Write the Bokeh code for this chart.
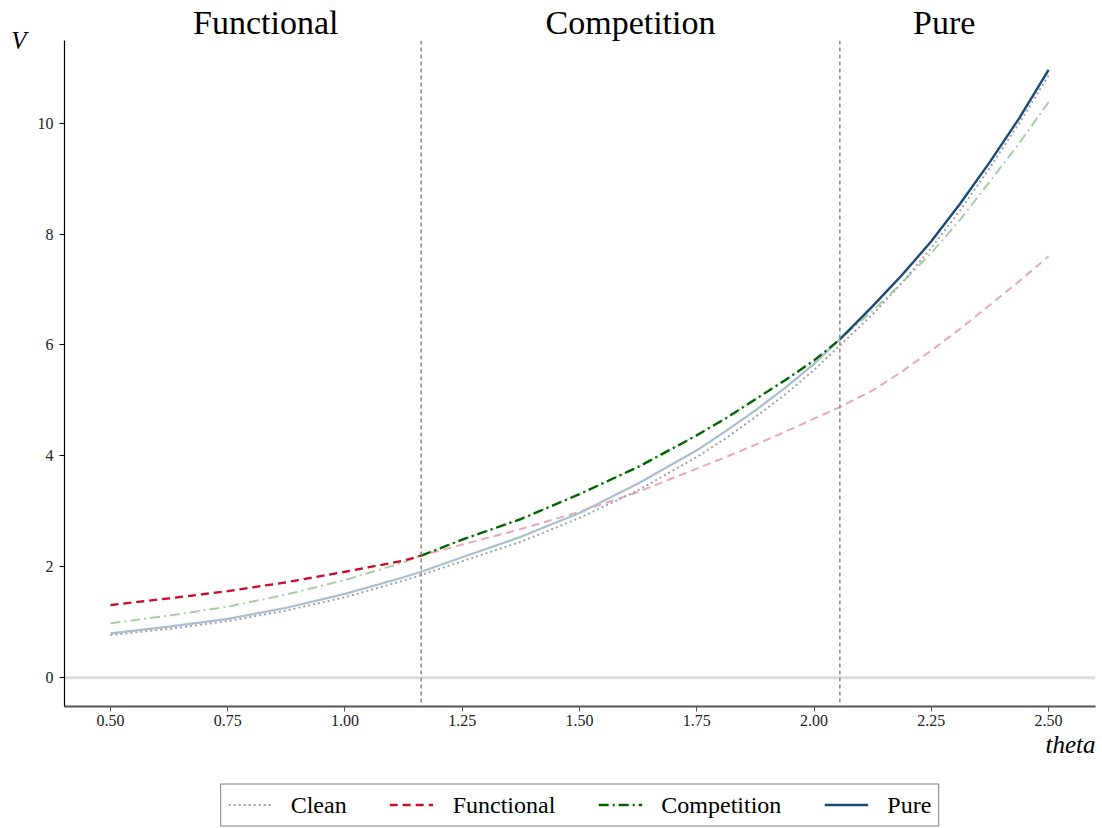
from bokeh.plotting import figure
from bokeh.layouts import column
from bokeh.models import (Span, Legend, LegendItem, Range1d, FixedTicker,
                          NumeralTickFormatter, LinearAxis, Title)
from bokeh.embed import file_html
from bokeh.resources import INLINE

theta = [0.5, 0.625, 0.75, 0.875, 1.0, 1.125, 1.1624, 1.25, 1.375, 1.5, 1.625,
         1.75, 1.8125, 1.875, 1.9375, 2.0, 2.055, 2.125, 2.1875, 2.25, 2.3125,
         2.375, 2.4375, 2.5]
clean = [0.77, 0.88, 1.02, 1.21, 1.45, 1.75, 1.85, 2.10, 2.45, 2.88, 3.38,
         3.98, 4.32, 4.70, 5.10, 5.55, 5.99, 6.55, 7.12, 7.75, 8.44,
         9.20, 10.00, 10.86]
functional = [1.31, 1.43, 1.56, 1.72, 1.91, 2.11, 2.20, 2.40, 2.68, 2.99, 3.35,
              3.77, 3.98, 4.20, 4.43, 4.67, 4.88, 5.18, 5.52, 5.90, 6.30,
              6.72, 7.15, 7.60]
competition = [0.98, 1.12, 1.28, 1.50, 1.76, 2.08, 2.20, 2.49, 2.86, 3.31, 3.80,
               4.37, 4.68, 5.02, 5.36, 5.72, 6.10, 6.62, 7.12, 7.66, 8.27,
               8.95, 9.64, 10.38]
pure = [0.80, 0.92, 1.06, 1.26, 1.51, 1.81, 1.91, 2.17, 2.54, 2.97, 3.50,
        4.10, 4.45, 4.82, 5.22, 5.66, 6.10, 6.70, 7.26, 7.87, 8.56,
        9.30, 10.09, 10.96]
boundaries = [1.1624, 2.055]
regions = ["Functional", "Competition", "Pure"]
x_ticks = [0.5, 0.75, 1.0, 1.25, 1.5, 1.75, 2.0, 2.25, 2.5]
y_ticks = [0, 2, 4, 6, 8, 10]

FONT = "Liberation Serif"
COL_FUNC, COL_FUNC_L = "#c8102e", "#e9a8b8"
COL_COMP, COL_COMP_L = "#006400", "#a8cfa2"
COL_PURE, COL_PURE_L = "#1c4a78", "#a9bdd3"
COL_CLEAN = "#a0a0a8"
DASH_FUNC, DASH_COMP, DASH_CLEAN = "8 5", "10 4 2 4", "2 3"

p = figure(width=1098, height=772, output_backend="svg", toolbar_location=None,
           x_range=Range1d(0.402, 2.6), y_range=Range1d(-0.52, 11.49),
           min_border_left=64, min_border_right=3, min_border_top=37,
           min_border_bottom=66)
p.outline_line_color = None
p.grid.visible = False
p.background_fill_color = "white"

for ax in (p.xaxis[0], p.yaxis[0]):
    ax.major_label_text_font = FONT
    ax.major_label_text_font_size = "16px"
    ax.major_label_text_color = "#222222"
    ax.minor_tick_line_color = None
    ax.major_tick_in = 0
    ax.major_tick_out = 5
    ax.axis_label_text_font = FONT
    ax.axis_label_text_font_style = "italic"
    ax.axis_label_text_font_size = "25px"
    ax.axis_label_text_color = "black"

xa, ya = p.xaxis[0], p.yaxis[0]
xa.ticker = FixedTicker(ticks=x_ticks)
xa.formatter = NumeralTickFormatter(format="0.00")
xa.axis_line_color = "#555555"
xa.axis_line_width = 2
xa.major_tick_line_color = "#555555"
xa.major_label_standoff = 3
ya.ticker = FixedTicker(ticks=y_ticks)
ya.axis_line_color = "black"
ya.axis_line_width = 1.2
ya.major_tick_line_color = "black"
ya.major_label_standoff = 6
ya.axis_label = "V"
ya.axis_label_standoff = 8
props = ya.properties()
if "axis_label_align" in props:
    ya.axis_label_align = "end"
if "axis_label_orientation" in props:
    ya.axis_label_orientation = "horizontal"

# x label, right-aligned under the axis
p.add_layout(Title(text="theta", align="right", text_font=FONT, text_font_style="italic",
                   text_font_size="25px", text_color="black", standoff=0), "below")

b1, b2 = boundaries
edges = [theta[0], b1, b2, theta[-1]]
mids = [round((edges[i] + edges[i + 1]) / 2, 4) for i in range(3)]
top = LinearAxis(ticker=FixedTicker(ticks=mids),
                 major_label_overrides={m: n for m, n in zip(mids, regions)})
top.axis_line_color = None
top.major_tick_line_color = None
top.minor_tick_line_color = None
top.major_tick_out = 0
top.major_tick_in = 0
top.major_label_standoff = 0
top.major_label_text_font = FONT
top.major_label_text_font_size = "34px"
top.major_label_text_color = "black"
p.add_layout(top, "above")

p.add_layout(Span(location=0, dimension="width", line_color="#dddddd", line_width=3, level="underlay"))
for b in boundaries:
    p.add_layout(Span(location=b, dimension="height", line_color="#888888",
                      line_width=1.5, line_dash="4 3"))


def sub(xs, ys, lo, hi):
    pts = [(a, v) for a, v in zip(xs, ys) if lo - 1e-9 <= a <= hi + 1e-9]
    return [a for a, _ in pts], [v for _, v in pts]


p.line(theta, functional, line_color=COL_FUNC_L, line_width=2, line_dash=DASH_FUNC)
p.line(theta, competition, line_color=COL_COMP_L, line_width=2, line_dash=DASH_COMP)
p.line(theta, pure, line_color=COL_PURE_L, line_width=2.2)
p.line(theta, clean, line_color=COL_CLEAN, line_width=2, line_dash=DASH_CLEAN)

fx, fy = sub(theta, functional, theta[0], b1)
p.line(fx, fy, line_color=COL_FUNC, line_width=2.3, line_dash=DASH_FUNC)
cx, cy = sub(theta, competition, b1, b2)
p.line(cx, cy, line_color=COL_COMP, line_width=2.3, line_dash=DASH_COMP)
px_, py_ = sub(theta, pure, b2, theta[-1])
p.line(px_, py_, line_color=COL_PURE, line_width=2.3)

# legend strip: same series, drawn outside its visible ranges so only the legend shows
lg = figure(width=1098, height=56, output_backend="svg", toolbar_location=None,
            x_range=Range1d(10, 11), y_range=Range1d(100, 101),
            min_border_left=64, min_border_right=3, min_border_top=9,
            min_border_bottom=0)
lg.axis.visible = False
lg.grid.visible = False
lg.outline_line_color = None
r_clean = lg.line(theta, clean, line_color=COL_CLEAN, line_width=2, line_dash=DASH_CLEAN)
r_func = lg.line(theta, functional, line_color=COL_FUNC, line_width=2.3, line_dash=DASH_FUNC)
r_comp = lg.line(theta, competition, line_color=COL_COMP, line_width=2.3, line_dash=DASH_COMP)
r_pure = lg.line(theta, pure, line_color=COL_PURE, line_width=2.3)
legend = Legend(items=[
    LegendItem(label="Clean", renderers=[r_clean]),
    LegendItem(label="Functional", renderers=[r_func]),
    LegendItem(label="Competition", renderers=[r_comp]),
    LegendItem(label="Pure", renderers=[r_pure]),
], orientation="horizontal", location="center")
legend.label_text_font = FONT
legend.label_text_font_size = "24px"
legend.label_text_color = "black"
legend.border_line_color = "black"
legend.border_line_width = 1.5
legend.glyph_width = 44
legend.label_standoff = 19
legend.spacing = 43
legend.padding = 7
legend.margin = 0
legend.background_fill_alpha = 1
lg.add_layout(legend, "center")

layout = column(p, lg, spacing=0)
open("out.html", "w").write(file_html(layout, INLINE))
